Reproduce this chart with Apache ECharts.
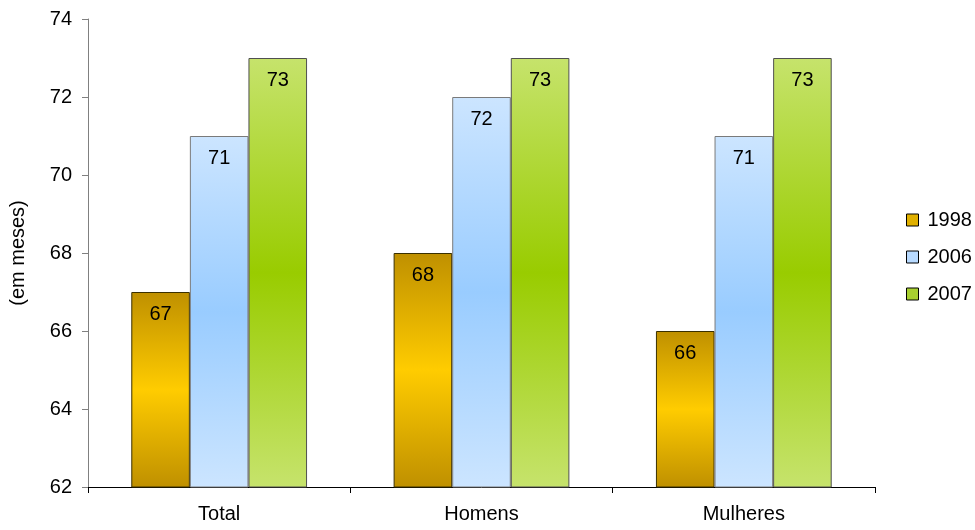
<!DOCTYPE html>
<html><head><meta charset="utf-8">
<script src="https://cdn.jsdelivr.net/npm/echarts@6/dist/echarts.min.js"></script>
<style>html,body{margin:0;padding:0;background:#fff}#c{width:975px;height:530px}</style>
</head><body><div id="c"></div>
<script>
const categories = ['Total', 'Homens', 'Mulheres'];
const seriesNames = ['1998', '2006', '2007'];
const v1998 = [67, 68, 66];
const v2006 = [71, 72, 71];
const v2007 = [73, 73, 73];
const yTicks = [62, 64, 66, 68, 70, 72, 74];

function grad(edge, mid) {
  return new echarts.graphic.LinearGradient(0, 0, 0, 1, [
    {offset: 0, color: edge}, {offset: 0.5, color: mid}, {offset: 1, color: edge}
  ]);
}
const styles = [
  {color: grad('#BF9000', '#FFCC00'), borderColor: '#3a3000'},
  {color: grad('#CCE5FF', '#99CCFF'), borderColor: '#7a7a7a'},
  {color: grad('#C6E36C', '#99CC00'), borderColor: '#505050'}
];
const legendColors = ['#E0B000', '#B8DAFF', '#A8D030'];
const font = 'Liberation Sans, Arial, sans-serif';
const data = [v1998, v2006, v2007];

const chart = echarts.init(document.getElementById('c'));
chart.setOption({
  animation: false,
  grid: {left: 88, right: 100, top: 19, bottom: 43},
  legend: {
    orient: 'vertical', left: 901, top: 205, itemWidth: 12, itemHeight: 12, itemGap: 17,
    icon: 'rect',
    textStyle: {fontFamily: font, fontSize: 20, color: '#000', padding: [0, 0, 0, 4]},
    data: seriesNames.map((n, i) => ({name: n, itemStyle: {color: legendColors[i], borderColor: '#000', borderWidth: 1}}))
  },
  xAxis: {
    type: 'category', data: categories,
    axisLine: {lineStyle: {color: '#000'}},
    axisTick: {show: true, length: 6, lineStyle: {color: '#000'}},
    axisLabel: {fontFamily: font, fontSize: 20, color: '#000', margin: 17}
  },
  yAxis: {
    type: 'value', min: yTicks[0], max: yTicks[yTicks.length - 1], interval: 2,
    name: '(em meses)', nameLocation: 'middle', nameGap: 60,
    nameTextStyle: {fontFamily: font, fontSize: 20, color: '#000'},
    axisLine: {show: true, lineStyle: {color: '#808080', width: 1}},
    axisTick: {show: true, length: 6, lineStyle: {color: '#808080'}},
    axisLabel: {fontFamily: font, fontSize: 20, color: '#000', margin: 16},
    splitLine: {show: false}
  },
  series: seriesNames.map((n, i) => ({
    name: n, type: 'bar', data: data[i], barGap: '0%', barCategoryGap: '33%',
    itemStyle: Object.assign({borderWidth: 1}, styles[i]),
    label: {show: true, position: 'insideTop', distance: 12, fontFamily: font, fontSize: 20, color: '#000'}
  }))
});
</script></body></html>
